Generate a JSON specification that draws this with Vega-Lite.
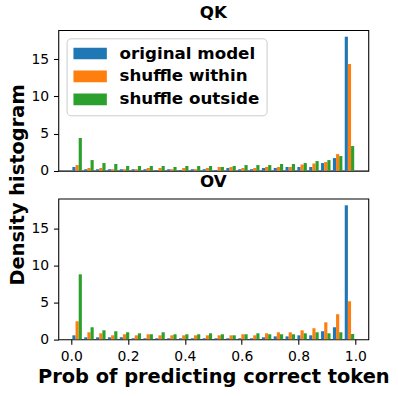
{
  "$schema": "https://vega.github.io/schema/vega-lite/v6.json",
  "autosize": {"type": "none"},
  "padding": {"left": 58.3, "top": 30, "right": 339.7, "bottom": 366},
  "config": {
    "font": "DejaVu Sans",
    "view": {"stroke": "black", "strokeWidth": 1.07},
    "axis": {"domain": false, "grid": false, "tickColor": "black", "tickSize": 4.86, "tickWidth": 1.07, "labelFont": "DejaVu Sans", "labelFontSize": 13.9, "labelColor": "black", "labelPadding": 4.86, "labelFlush": false, "titleFont": "DejaVu Sans", "titleFontSize": 19.4, "titleFontWeight": "bold", "titleColor": "black"},
    "title": {"font": "DejaVu Sans", "fontSize": 16.7, "fontWeight": "bold", "color": "black", "offset": 8.3, "baseline": "alphabetic"},
    "legend": {"orient": "none", "legendX": 8.3, "legendY": 8.3, "fillColor": "rgba(255,255,255,0.8)", "strokeColor": "#cccccc", "cornerRadius": 4, "padding": 6.7, "labelFont": "DejaVu Sans", "labelFontSize": 16.7, "labelFontWeight": "bold", "labelColor": "black", "symbolType": "M-2,-0.7H2V0.7H-2Z", "symbolSize": 279, "symbolOffset": 8.35, "symbolStrokeWidth": 0, "symbolOpacity": 1, "labelOffset": 20.9, "rowPadding": 4.9}
  },
  "datasets": {
    "hist": [
      {"panel": "QK", "bin": 1, "original model": 0.5, "shuffle within": 0.76, "shuffle outside": 4.4},
      {"panel": "QK", "bin": 2, "original model": 0.2, "shuffle within": 0.36, "shuffle outside": 1.43},
      {"panel": "QK", "bin": 3, "original model": 0.2, "shuffle within": 0.36, "shuffle outside": 1.03},
      {"panel": "QK", "bin": 4, "original model": 0.2, "shuffle within": 0.2, "shuffle outside": 0.9},
      {"panel": "QK", "bin": 5, "original model": 0.2, "shuffle within": 0.2, "shuffle outside": 0.63},
      {"panel": "QK", "bin": 6, "original model": 0.2, "shuffle within": 0.2, "shuffle outside": 0.63},
      {"panel": "QK", "bin": 7, "original model": 0.2, "shuffle within": 0.36, "shuffle outside": 0.63},
      {"panel": "QK", "bin": 8, "original model": 0.08, "shuffle within": 0.36, "shuffle outside": 0.63},
      {"panel": "QK", "bin": 9, "original model": 0.2, "shuffle within": 0.2, "shuffle outside": 0.5},
      {"panel": "QK", "bin": 10, "original model": 0.1, "shuffle within": 0.36, "shuffle outside": 0.63},
      {"panel": "QK", "bin": 11, "original model": 0.2, "shuffle within": 0.2, "shuffle outside": 0.63},
      {"panel": "QK", "bin": 12, "original model": 0.2, "shuffle within": 0.36, "shuffle outside": 0.63},
      {"panel": "QK", "bin": 13, "original model": 0.1, "shuffle within": 0.5, "shuffle outside": 0.5},
      {"panel": "QK", "bin": 14, "original model": 0.36, "shuffle within": 0.5, "shuffle outside": 0.63},
      {"panel": "QK", "bin": 15, "original model": 0.2, "shuffle within": 0.36, "shuffle outside": 0.76},
      {"panel": "QK", "bin": 16, "original model": 0.2, "shuffle within": 0.36, "shuffle outside": 0.76},
      {"panel": "QK", "bin": 17, "original model": 0.36, "shuffle within": 0.5, "shuffle outside": 0.76},
      {"panel": "QK", "bin": 18, "original model": 0.36, "shuffle within": 0.5, "shuffle outside": 0.9},
      {"panel": "QK", "bin": 19, "original model": 0.5, "shuffle within": 0.5, "shuffle outside": 0.9},
      {"panel": "QK", "bin": 20, "original model": 0.5, "shuffle within": 0.83, "shuffle outside": 1.03},
      {"panel": "QK", "bin": 21, "original model": 0.5, "shuffle within": 0.97, "shuffle outside": 1.3},
      {"panel": "QK", "bin": 22, "original model": 1.03, "shuffle within": 1.17, "shuffle outside": 1.43},
      {"panel": "QK", "bin": 23, "original model": 1.7, "shuffle within": 2.24, "shuffle outside": 1.97},
      {"panel": "QK", "bin": 24, "original model": 18.04, "shuffle within": 14.36, "shuffle outside": 3.32},
      {"panel": "OV", "bin": 1, "original model": 0.54, "shuffle within": 2.44, "shuffle outside": 8.8},
      {"panel": "OV", "bin": 2, "original model": 0.27, "shuffle within": 0.95, "shuffle outside": 1.63},
      {"panel": "OV", "bin": 3, "original model": 0.27, "shuffle within": 0.81, "shuffle outside": 1.22},
      {"panel": "OV", "bin": 4, "original model": 0.27, "shuffle within": 0.54, "shuffle outside": 1.09},
      {"panel": "OV", "bin": 5, "original model": 0.27, "shuffle within": 0.68, "shuffle outside": 0.95},
      {"panel": "OV", "bin": 6, "original model": 0.14, "shuffle within": 0.54, "shuffle outside": 0.81},
      {"panel": "OV", "bin": 7, "original model": 0.14, "shuffle within": 0.68, "shuffle outside": 0.68},
      {"panel": "OV", "bin": 8, "original model": 0.14, "shuffle within": 0.54, "shuffle outside": 0.95},
      {"panel": "OV", "bin": 9, "original model": 0.14, "shuffle within": 0.54, "shuffle outside": 0.68},
      {"panel": "OV", "bin": 10, "original model": 0.14, "shuffle within": 0.54, "shuffle outside": 0.68},
      {"panel": "OV", "bin": 11, "original model": 0.14, "shuffle within": 0.54, "shuffle outside": 0.68},
      {"panel": "OV", "bin": 12, "original model": 0.14, "shuffle within": 0.54, "shuffle outside": 0.81},
      {"panel": "OV", "bin": 13, "original model": 0.14, "shuffle within": 0.54, "shuffle outside": 0.68},
      {"panel": "OV", "bin": 14, "original model": 0.14, "shuffle within": 0.54, "shuffle outside": 0.54},
      {"panel": "OV", "bin": 15, "original model": 0.14, "shuffle within": 0.68, "shuffle outside": 0.68},
      {"panel": "OV", "bin": 16, "original model": 0.14, "shuffle within": 0.54, "shuffle outside": 0.81},
      {"panel": "OV", "bin": 17, "original model": 0.27, "shuffle within": 0.81, "shuffle outside": 0.68},
      {"panel": "OV", "bin": 18, "original model": 0.4, "shuffle within": 0.95, "shuffle outside": 0.68},
      {"panel": "OV", "bin": 19, "original model": 0.4, "shuffle within": 0.95, "shuffle outside": 0.68},
      {"panel": "OV", "bin": 20, "original model": 0.54, "shuffle within": 1.22, "shuffle outside": 0.81},
      {"panel": "OV", "bin": 21, "original model": 0.54, "shuffle within": 1.5, "shuffle outside": 0.95},
      {"panel": "OV", "bin": 22, "original model": 1.09, "shuffle within": 2.3, "shuffle outside": 0.81},
      {"panel": "OV", "bin": 23, "original model": 1.63, "shuffle within": 3.4, "shuffle outside": 0.95},
      {"panel": "OV", "bin": 24, "original model": 18.15, "shuffle within": 5.15, "shuffle outside": 0.72}
    ]
  },
  "spacing": 27.6,
  "bounds": "flush",
  "resolve": {"scale": {"y": "independent"}},
  "vconcat": [
    {
      "title": {"text": "QK"},
      "width": 310,
      "height": 140.7,
      "data": {"name": "hist"},
      "transform": [
        {"filter": "datum.panel === 'QK'"},
        {"fold": ["original model", "shuffle within", "shuffle outside"], "as": ["series", "density"]},
        {"calculate": "indexof(['original model','shuffle within','shuffle outside'], datum.series)", "as": "idx"},
        {"calculate": "(datum.bin - 1) / 24 + 0.1 / 24 + datum.idx * 0.8 / 72", "as": "x0"},
        {"calculate": "datum.x0 + 0.8 / 72", "as": "x1"}
      ],
      "mark": {"type": "bar"},
      "encoding": {
        "x": {"field": "x0", "type": "quantitative", "scale": {"domain": [-0.0454, 1.0454], "nice": false, "zero": false}, "axis": null},
        "x2": {"field": "x1"},
        "y": {"field": "density", "type": "quantitative", "scale": {"domain": [0, 18.94], "nice": false}, "axis": {"values": [0, 5, 10, 15], "title": "Density histogram", "titleX": -40.8, "titleY": 154.5, "titleAngle": 270, "titleAlign": "center", "titleBaseline": "middle"}},
        "y2": {"datum": 0},
        "color": {"field": "series", "type": "nominal", "scale": {"domain": ["original model", "shuffle within", "shuffle outside"], "range": ["#1f77b4", "#ff7f0e", "#2ca02c"]}, "legend": {"title": null}}
      }
    },
    {
      "title": {"text": "OV"},
      "width": 310,
      "height": 140.7,
      "data": {"name": "hist"},
      "transform": [
        {"filter": "datum.panel === 'OV'"},
        {"fold": ["original model", "shuffle within", "shuffle outside"], "as": ["series", "density"]},
        {"calculate": "indexof(['original model','shuffle within','shuffle outside'], datum.series)", "as": "idx"},
        {"calculate": "(datum.bin - 1) / 24 + 0.1 / 24 + datum.idx * 0.8 / 72", "as": "x0"},
        {"calculate": "datum.x0 + 0.8 / 72", "as": "x1"}
      ],
      "mark": {"type": "bar"},
      "encoding": {
        "x": {"field": "x0", "type": "quantitative", "scale": {"domain": [-0.0454, 1.0454], "nice": false, "zero": false}, "axis": {"values": [0, 0.2, 0.4, 0.6, 0.8, 1.0], "format": ".1f", "title": "Prob of predicting correct token", "titlePadding": 5}},
        "x2": {"field": "x1"},
        "y": {"field": "density", "type": "quantitative", "scale": {"domain": [0, 19.06], "nice": false}, "axis": {"values": [0, 5, 10, 15], "title": null}},
        "y2": {"datum": 0},
        "color": {"field": "series", "type": "nominal", "scale": {"domain": ["original model", "shuffle within", "shuffle outside"], "range": ["#1f77b4", "#ff7f0e", "#2ca02c"]}, "legend": null}
      }
    }
  ]
}
